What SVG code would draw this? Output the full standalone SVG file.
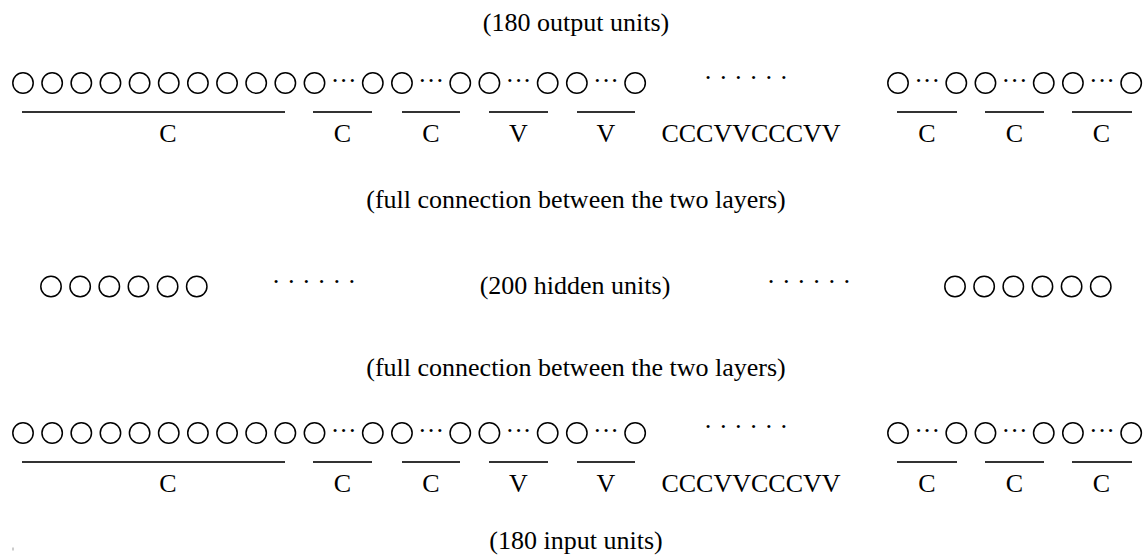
<svg xmlns="http://www.w3.org/2000/svg" xmlns:xlink="http://www.w3.org/1999/xlink" width="1143" height="555" viewBox="0 0 1143 555">
<style>
  text { font-family: "Liberation Serif", "Times New Roman", serif; font-size: 26px; fill: #000; text-anchor: middle; }
  .u { fill: none; stroke: #000; stroke-width: 1.5; }
  .br { stroke: #333; stroke-width: 2; fill: none; }
  .dd { font-size: 26px; }
</style>
<defs>
  <circle id="u" class="u" r="10.2"/>
</defs>
<rect width="1143" height="555" fill="#fff"/>

<g id="output-title"><text x="576" y="31">(180 output units)</text></g>

<g id="output-layer">
  <use href="#u" x="23" y="83"/><use href="#u" x="52.15" y="83"/><use href="#u" x="81.3" y="83"/><use href="#u" x="110.45" y="83"/><use href="#u" x="139.6" y="83"/>
  <use href="#u" x="168.75" y="83"/><use href="#u" x="197.9" y="83"/><use href="#u" x="227.05" y="83"/><use href="#u" x="256.2" y="83"/><use href="#u" x="285.35" y="83"/>
  <use href="#u" x="314.5" y="83"/><text class="dd" x="343.65" y="88.5">···</text><use href="#u" x="372.8" y="83"/>
  <use href="#u" x="401.95" y="83"/><text class="dd" x="431.1" y="88.5">···</text><use href="#u" x="460.25" y="83"/>
  <use href="#u" x="489.4" y="83"/><text class="dd" x="518.55" y="88.5">···</text><use href="#u" x="547.7" y="83"/>
  <use href="#u" x="576.85" y="83"/><text class="dd" x="606" y="88.5">···</text><use href="#u" x="635.15" y="83"/>
  <text x="746" y="86">· · · · · ·</text>
  <use href="#u" x="898" y="83"/><text class="dd" x="927.15" y="88.5">···</text><use href="#u" x="956.3" y="83"/>
  <use href="#u" x="985.45" y="83"/><text class="dd" x="1014.6" y="88.5">···</text><use href="#u" x="1043.75" y="83"/>
  <use href="#u" x="1072.9" y="83"/><text class="dd" x="1102.05" y="88.5">···</text><use href="#u" x="1131.2" y="83"/>
</g>

<g id="output-brackets">
  <line class="br" x1="22" y1="112" x2="285" y2="112"/>
  <line class="br" x1="313" y1="112" x2="372" y2="112"/>
  <line class="br" x1="402" y1="112" x2="460" y2="112"/>
  <line class="br" x1="489" y1="112" x2="548" y2="112"/>
  <line class="br" x1="577" y1="112" x2="635" y2="112"/>
  <line class="br" x1="897" y1="112" x2="957" y2="112"/>
  <line class="br" x1="985" y1="112" x2="1044" y2="112"/>
  <line class="br" x1="1072" y1="112" x2="1132" y2="112"/>
</g>
<g id="output-labels">
  <text x="168" y="142">C</text>
  <text x="342.5" y="142">C</text>
  <text x="431" y="142">C</text>
  <text x="518.5" y="142">V</text>
  <text x="606" y="142">V</text>
  <text x="751" y="142">CCCVVCCCVV</text>
  <text x="927" y="142">C</text>
  <text x="1014.5" y="142">C</text>
  <text x="1101.5" y="142">C</text>
</g>

<g id="connection-upper"><text x="576" y="208">(full connection between the two layers)</text></g>

<g id="hidden-layer">
  <use href="#u" x="51" y="286.5"/><use href="#u" x="80.15" y="286.5"/><use href="#u" x="109.3" y="286.5"/><use href="#u" x="138.45" y="286.5"/><use href="#u" x="167.6" y="286.5"/><use href="#u" x="196.75" y="286.5"/>
  <text x="314" y="290">· · · · · ·</text>
  <text x="575" y="294">(200 hidden units)</text>
  <text x="809" y="290">· · · · · ·</text>
  <use href="#u" x="955" y="286.5"/><use href="#u" x="984.15" y="286.5"/><use href="#u" x="1013.3" y="286.5"/><use href="#u" x="1042.45" y="286.5"/><use href="#u" x="1071.6" y="286.5"/><use href="#u" x="1100.75" y="286.5"/>
</g>

<g id="connection-lower"><text x="576" y="376">(full connection between the two layers)</text></g>

<g id="input-layer">
  <use href="#u" x="23" y="433"/><use href="#u" x="52.15" y="433"/><use href="#u" x="81.3" y="433"/><use href="#u" x="110.45" y="433"/><use href="#u" x="139.6" y="433"/>
  <use href="#u" x="168.75" y="433"/><use href="#u" x="197.9" y="433"/><use href="#u" x="227.05" y="433"/><use href="#u" x="256.2" y="433"/><use href="#u" x="285.35" y="433"/>
  <use href="#u" x="314.5" y="433"/><text class="dd" x="343.65" y="438.5">···</text><use href="#u" x="372.8" y="433"/>
  <use href="#u" x="401.95" y="433"/><text class="dd" x="431.1" y="438.5">···</text><use href="#u" x="460.25" y="433"/>
  <use href="#u" x="489.4" y="433"/><text class="dd" x="518.55" y="438.5">···</text><use href="#u" x="547.7" y="433"/>
  <use href="#u" x="576.85" y="433"/><text class="dd" x="606" y="438.5">···</text><use href="#u" x="635.15" y="433"/>
  <text x="746" y="435">· · · · · ·</text>
  <use href="#u" x="898" y="433"/><text class="dd" x="927.15" y="438.5">···</text><use href="#u" x="956.3" y="433"/>
  <use href="#u" x="985.45" y="433"/><text class="dd" x="1014.6" y="438.5">···</text><use href="#u" x="1043.75" y="433"/>
  <use href="#u" x="1072.9" y="433"/><text class="dd" x="1102.05" y="438.5">···</text><use href="#u" x="1131.2" y="433"/>
</g>

<g id="input-brackets">
  <line class="br" x1="22" y1="462" x2="285" y2="462"/>
  <line class="br" x1="313" y1="462" x2="372" y2="462"/>
  <line class="br" x1="402" y1="462" x2="460" y2="462"/>
  <line class="br" x1="489" y1="462" x2="548" y2="462"/>
  <line class="br" x1="577" y1="462" x2="635" y2="462"/>
  <line class="br" x1="897" y1="462" x2="957" y2="462"/>
  <line class="br" x1="985" y1="462" x2="1044" y2="462"/>
  <line class="br" x1="1072" y1="462" x2="1132" y2="462"/>
</g>
<g id="input-labels">
  <text x="168" y="492">C</text>
  <text x="342.5" y="492">C</text>
  <text x="431" y="492">C</text>
  <text x="518.5" y="492">V</text>
  <text x="606" y="492">V</text>
  <text x="751" y="492">CCCVVCCCVV</text>
  <text x="927" y="492">C</text>
  <text x="1014.5" y="492">C</text>
  <text x="1101.5" y="492">C</text>
</g>

<g id="input-title"><text x="576" y="549">(180 input units)</text></g>

<g id="connectors"></g>

<line x1="13" y1="547.5" x2="13" y2="550.5" stroke="#999" stroke-width="1"/>
</svg>
